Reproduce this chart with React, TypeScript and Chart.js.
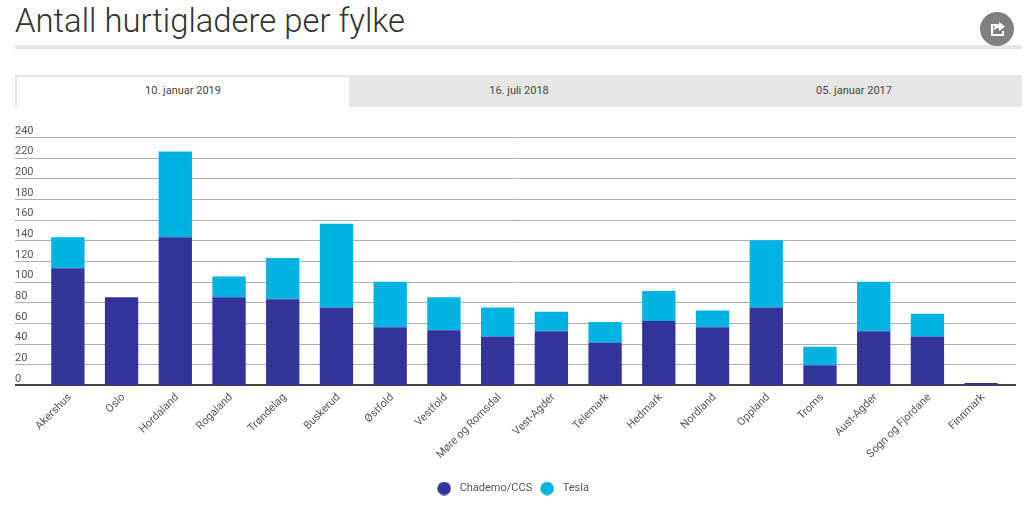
import React, { useEffect, useRef } from "react";
import { Chart, registerables } from "chart.js";

Chart.register(...registerables);

const categories = ["Akershus", "Oslo", "Hordaland", "Rogaland", "Trøndelag", "Buskerud", "Østfold", "Vestfold", "Møre og Romsdal", "Vest-Agder", "Telemark", "Hedmark", "Nordland", "Oppland", "Troms", "Aust-Agder", "Sogn og Fjordane", "Finnmark"];
const chademo = [113, 85, 143, 85, 83, 75, 56, 53, 47, 52, 41, 62, 56, 75, 19, 52, 47, 2];
const tesla = [30, 0, 83, 20, 40, 81, 44, 32, 28, 19, 20, 29, 16, 65, 18, 48, 22, 0];
const tabs = ["10. januar 2019", "16. juli 2018", "05. januar 2017"];
const title = "Antall hurtigladere per fylke";

const FONT = "Roboto, sans-serif";
const NAVY = "#333399";
const CYAN = "#00b3e3";

function dot(color: string) {
  const c = document.createElement("canvas");
  c.width = 14;
  c.height = 14;
  const g = c.getContext("2d") as CanvasRenderingContext2D;
  g.fillStyle = color;
  g.beginPath();
  g.arc(7, 7, 6.8, 0, Math.PI * 2);
  g.fill();
  return c;
}

const fullWidthGrid = {
  id: "fullWidthGrid",
  beforeDatasetsDraw(chart: any) {
    const { ctx, scales } = chart;
    const y = scales.y;
    ctx.save();
    y.ticks.forEach((t: any, i: number) => {
      const zero = t.value === 0;
      const py = zero ? y.getPixelForTick(i) : Math.round(y.getPixelForTick(i)) + 0.5;
      ctx.lineWidth = zero ? 2 : 1;
      ctx.strokeStyle = zero ? "#444" : "#b0b0b0";
      ctx.beginPath();
      ctx.moveTo(15, py);
      ctx.lineTo(1016, py);
      ctx.stroke();
    });
    ctx.restore();
  },
};

export default function App() {
  const ref = useRef<HTMLCanvasElement>(null);
  useEffect(() => {
    const dots = [dot(NAVY), dot(CYAN)];
    const chart = new Chart(ref.current as HTMLCanvasElement, {
      type: "bar",
      data: {
        labels: categories,
        datasets: [
          { label: "Chademo/CCS", data: chademo, backgroundColor: NAVY, borderWidth: 0, categoryPercentage: 1, barPercentage: 0.62 },
          { label: "Tesla", data: tesla, backgroundColor: CYAN, borderWidth: 0, categoryPercentage: 1, barPercentage: 0.62 },
        ],
      },
      options: {
        animation: false,
        responsive: false,
        layout: { padding: { left: 15, right: 16, top: 22, bottom: 14 } },
        plugins: {
          tooltip: { enabled: false },
          legend: {
            position: "bottom",
            labels: {
              usePointStyle: true,
              pointStyleWidth: 20,
              padding: 5,
              color: "#555",
              font: { family: FONT, size: 11, weight: "400" },
              generateLabels: (c: any) =>
                Chart.defaults.plugins.legend.labels.generateLabels(c).map((l: any, i: number) => ({ ...l, pointStyle: dots[i] })),
            },
          },
        },
        scales: {
          x: {
            stacked: true,
            grid: { display: false },
            border: { display: false },
            afterFit: (s: any) => { s.height = 93; },
            ticks: {
              maxRotation: 45,
              minRotation: 45,
              autoSkip: false,
              padding: -2,
              labelOffset: 2,
              color: "#555",
              font: { family: FONT, size: 11 },
            },
          },
          y: {
            stacked: true,
            min: 0,
            max: 240,
            grid: { display: false },
            border: { display: false },
            afterFit: (s: any) => { s.width = 26; },
            ticks: {
              stepSize: 20,
              crossAlign: "far",
              padding: 0,
              labelOffset: -6,
              color: "#555",
              font: { family: FONT, size: 11 },
            },
          },
        },
      },
      plugins: [fullWidthGrid],
    } as any);
    return () => chart.destroy();
  }, []);

  const centers = [183, 519, 854];
  return (
    <div style={{ position: "absolute", left: 0, top: 0, width: 1024, height: 518, background: "#fff", overflow: "hidden", fontFamily: FONT }}>
      <div style={{ position: "absolute", left: 15, top: -1, fontSize: 32.8, lineHeight: "44px", fontWeight: 300, color: "#333", whiteSpace: "nowrap" }}>{title}</div>
      <div style={{ position: "absolute", left: 15, top: 45, width: 1007, height: 4, background: "#e6e6e6" }} />
      <div style={{ position: "absolute", left: 980, top: 12, width: 34, height: 34, borderRadius: 17, background: "#808080" }}>
        <svg width="34" height="34" viewBox="0 0 34 34">
          <path d="M11 12h7v2h-5v8h9v-3h2v5H11z" fill="#fff" />
          <path d="M19 10l6 4.500-6 4.500v-3c-3 0-4.500 1-5.500 3 0-4 2-6.500 5.500-6.500z" fill="#fff" />
        </svg>
      </div>
      <div style={{ position: "absolute", left: 15, top: 75, width: 1007, height: 32, background: "#e6e6e6" }} />
      <div style={{ position: "absolute", left: 17, top: 77, width: 332, height: 30, background: "#fff", borderRadius: "2px 2px 0 0" }} />
      {tabs.map((t, i) => (
        <div key={t} style={{ position: "absolute", left: centers[i] - 100, width: 200, top: 83, textAlign: "center", fontSize: 11, lineHeight: "16px", fontWeight: 400, color: "#444" }}>{t}</div>
      ))}
      <canvas ref={ref} width={1024} height={403} style={{ position: "absolute", left: 0, top: 115 }} />
    </div>
  );
}
